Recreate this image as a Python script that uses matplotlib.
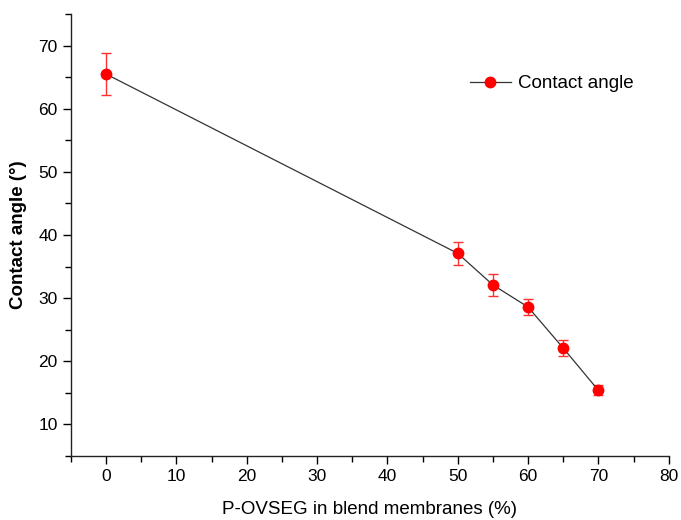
import matplotlib
matplotlib.use('Agg')
import matplotlib.pyplot as plt
from matplotlib.ticker import MultipleLocator

plt.rcParams['font.family'] = ['Liberation Sans', 'DejaVu Sans']

# P-OVSEG content (%) and measured contact angle (deg)
content = [0, 50, 55, 60, 65, 70]
angle = [65.5, 37.1, 32.1, 28.6, 22.1, 15.4]
angle_err = [3.3, 1.8, 1.7, 1.3, 1.2, 0.8]

fig = plt.figure(figsize=(6.81, 5.2), dpi=100)
ax = fig.add_axes([0.104, 0.123, 0.878, 0.85])

ax.plot(content, angle, color='#333333', lw=0.9, marker='o', ms=7.5,
        mfc='red', mec='red', label='Contact angle', zorder=3)
ax.errorbar(content, angle, yerr=angle_err, fmt='none', ecolor='#ff3030',
            elinewidth=1.0, capsize=3.5, capthick=1.0, zorder=2)

ax.set_xlim(-5, 80)
ax.set_ylim(5, 75)
ax.xaxis.set_major_locator(MultipleLocator(10))
ax.xaxis.set_minor_locator(MultipleLocator(5))
ax.yaxis.set_major_locator(MultipleLocator(10))
ax.yaxis.set_minor_locator(MultipleLocator(5))
ax.tick_params(which='major', direction='out', length=6, width=1, labelsize=12.5)
ax.tick_params(which='minor', direction='out', length=4, width=1)
ax.set_yticks([10, 20, 30, 40, 50, 60, 70])

for side in ['top', 'right']:
    ax.spines[side].set_visible(False)
for side in ['left', 'bottom']:
    ax.spines[side].set_linewidth(1.0)
    ax.spines[side].set_color('#222222')

ax.set_xlabel('P-OVSEG in blend membranes (%)', fontsize=13.5, labelpad=12)
ax.set_ylabel('Contact angle (°)', fontsize=13.5, fontweight='bold', labelpad=8)

ax.legend(loc='upper right', bbox_to_anchor=(0.97, 0.90), frameon=False,
          fontsize=13.5, handlelength=2.2, handletextpad=0.4)

fig.savefig('out.png', dpi=100)
